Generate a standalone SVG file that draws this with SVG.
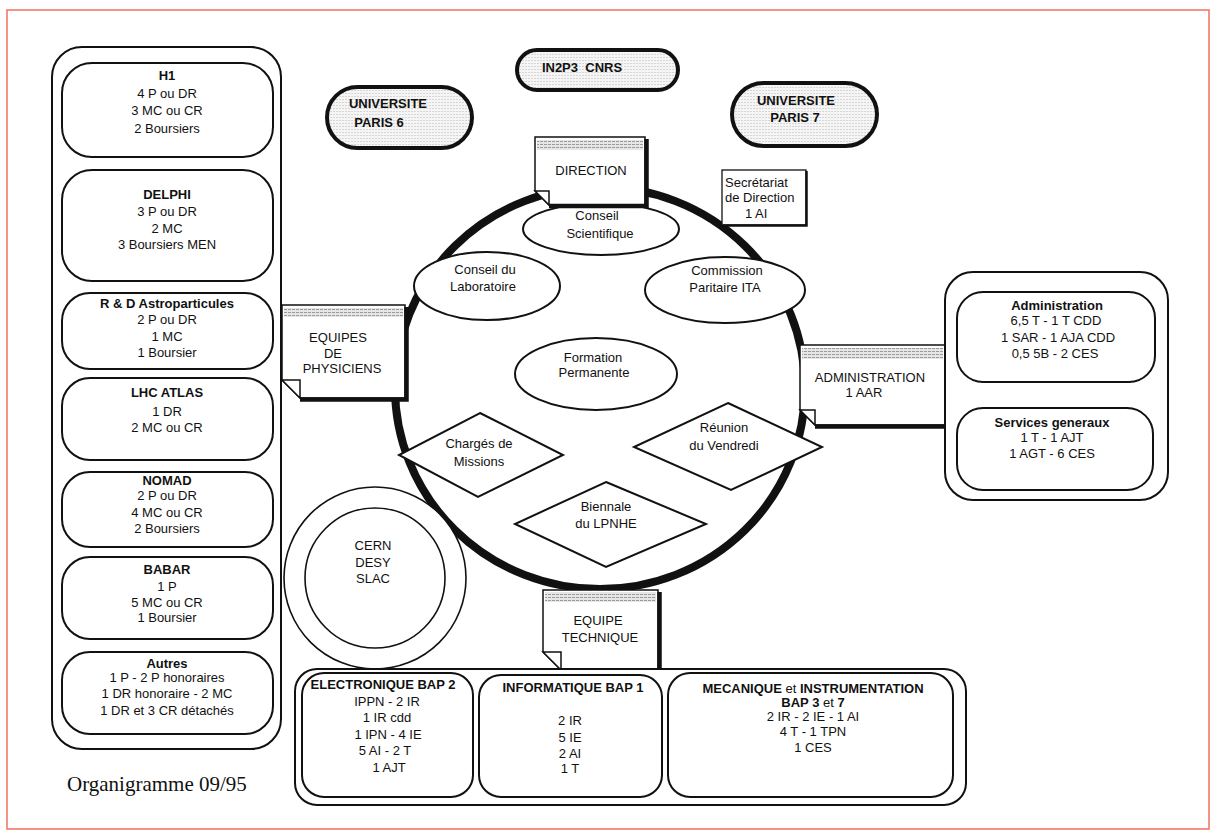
<svg xmlns="http://www.w3.org/2000/svg" width="1217" height="836" viewBox="0 0 1217 836">
<style>
.t{font-family:"Liberation Sans",Arial,sans-serif;font-size:13px;text-anchor:middle;fill:#111}
.b{font-weight:bold}
.s{text-anchor:start}
.box{fill:#fff;stroke:#111;stroke-width:2}
.oval{fill:url(#stip);stroke:#111;stroke-width:4}
.note{fill:#fff;stroke:#111;stroke-width:1.5}
.fold{fill:#fff;stroke:#111;stroke-width:1.5;stroke-linejoin:miter}
.shadow{fill:none;stroke:#111;stroke-width:4.5}
.shape{fill:#fff;stroke:#111;stroke-width:2}
</style>
<defs>
<pattern id="stip" width="3" height="3" patternUnits="userSpaceOnUse"><rect width="3" height="3" fill="#f5f5f5"/><rect width="2" height="1" fill="#d6d6d6"/></pattern>
<pattern id="band" width="4" height="3" patternUnits="userSpaceOnUse"><rect width="4" height="3" fill="#e6e6e6"/><rect width="3" height="1" fill="#9a9a9a"/></pattern>
</defs>
<rect width="1217" height="836" fill="#fff"/>
<rect x="7" y="10" width="1202" height="819" fill="none" stroke="#f07a6a" stroke-width="1.6"/>

<g id="connectors"></g>

<!-- Left container -->
<g id="equipes-list">
<rect class="box" x="52" y="47" width="229" height="702" rx="30"/>
</g>
<g id="h1">
<rect class="box" x="62" y="63" width="211" height="94" rx="30"/>
<text class="t b" x="167" y="80">H1</text>
<text class="t" x="167" y="98">4 P ou DR</text>
<text class="t" x="167" y="115">3 MC ou CR</text>
<text class="t" x="167" y="133">2 Boursiers</text>
</g>
<g id="delphi">
<rect class="box" x="62" y="170" width="211" height="111" rx="30"/>
<text class="t b" x="167" y="199">DELPHI</text>
<text class="t" x="167" y="216">3 P ou DR</text>
<text class="t" x="167" y="233">2 MC</text>
<text class="t" x="167" y="249">3 Boursiers MEN</text>
</g>
<g id="rd">
<rect class="box" x="62" y="293" width="211" height="76" rx="28"/>
<text class="t b" x="167" y="308">R &amp; D Astroparticules</text>
<text class="t" x="167" y="324">2 P ou DR</text>
<text class="t" x="167" y="341">1 MC</text>
<text class="t" x="167" y="357">1 Boursier</text>
</g>
<g id="lhc">
<rect class="box" x="62" y="378" width="211" height="82" rx="28"/>
<text class="t b" x="167" y="397">LHC ATLAS</text>
<text class="t" x="167" y="416">1 DR</text>
<text class="t" x="167" y="432">2 MC ou CR</text>
</g>
<g id="nomad">
<rect class="box" x="62" y="472" width="211" height="75" rx="28"/>
<text class="t b" x="167" y="485">NOMAD</text>
<text class="t" x="167" y="500">2 P ou DR</text>
<text class="t" x="167" y="517">4 MC ou CR</text>
<text class="t" x="167" y="533">2 Boursiers</text>
</g>
<g id="babar">
<rect class="box" x="62" y="557" width="211" height="82" rx="28"/>
<text class="t b" x="167" y="574">BABAR</text>
<text class="t" x="167" y="591">1 P</text>
<text class="t" x="167" y="607">5 MC ou CR</text>
<text class="t" x="167" y="622">1 Boursier</text>
</g>
<g id="autres">
<rect class="box" x="62" y="652" width="211" height="82" rx="28"/>
<text class="t b" x="167" y="668">Autres</text>
<text class="t" x="167" y="682">1 P - 2 P honoraires</text>
<text class="t" x="167" y="698">1 DR honoraire - 2 MC</text>
<text class="t" x="167" y="715">1 DR et 3 CR détachés</text>
</g>
<text x="67" y="791" font-family="Liberation Serif,'Times New Roman',serif" font-size="21" fill="#111">Organigramme 09/95</text>

<!-- Top ovals -->
<g id="paris6">
<rect class="oval" x="327" y="87" width="145" height="61" rx="30.5"/>
<text class="t b" x="388" y="107.5">UNIVERSITE</text>
<text class="t b" x="379" y="126.5">PARIS 6</text>
</g>
<g id="in2p3">
<rect class="oval" x="517" y="50" width="161" height="40" rx="20"/>
<text class="t b" x="582" y="71.5" style="white-space:pre">IN2P3  CNRS</text>
</g>
<g id="paris7">
<rect class="oval" x="732" y="83" width="145" height="63" rx="31.5"/>
<text class="t b" x="796" y="104.5">UNIVERSITE</text>
<text class="t b" x="795" y="121.5">PARIS 7</text>
</g>

<!-- Central circle -->
<g id="laboratoire">
<ellipse cx="600" cy="388" rx="205" ry="201" fill="#fff" stroke="#111" stroke-width="8"/>
</g>
<g id="conseil-scientifique">
<ellipse class="shape" cx="601" cy="229" rx="78" ry="26"/>
<text class="t" x="597" y="219.5">Conseil</text>
<text class="t" x="600" y="237.5">Scientifique</text>
</g>
<g id="conseil-labo">
<ellipse class="shape" cx="487" cy="286" rx="73" ry="34"/>
<text class="t" x="485" y="273.5">Conseil du</text>
<text class="t" x="483" y="290.5">Laboratoire</text>
</g>
<g id="commission">
<ellipse class="shape" cx="725" cy="290" rx="80" ry="33"/>
<text class="t" x="727" y="274.5">Commission</text>
<text class="t" x="725" y="291.5">Paritaire ITA</text>
</g>
<g id="formation">
<ellipse class="shape" cx="596" cy="374" rx="81" ry="36"/>
<text class="t" x="593" y="361.5">Formation</text>
<text class="t" x="594" y="376.5">Permanente</text>
</g>
<g id="charges">
<polygon class="shape" points="480,413 563,455 478,497 399,455"/>
<text class="t" x="479" y="447.5">Chargés de</text>
<text class="t" x="479" y="465.5">Missions</text>
</g>
<g id="reunion">
<polygon class="shape" points="728,403 822,447 731,490 634,447"/>
<text class="t" x="724" y="431.5">Réunion</text>
<text class="t" x="724" y="449.5">du Vendredi</text>
</g>
<g id="biennale">
<polygon class="shape" points="606,482 706,524 606,567 515,524"/>
<text class="t" x="606" y="510.5">Biennale</text>
<text class="t" x="606" y="527.5">du LPNHE</text>
</g>

<!-- CERN -->
<g id="cern">
<circle cx="375" cy="578" r="91" fill="#fff" stroke="#111" stroke-width="1.6"/>
<circle cx="375" cy="578" r="70" fill="#fff" stroke="#111" stroke-width="1.6"/>
<text class="t" x="373" y="549.5">CERN</text>
<text class="t" x="373" y="566.5">DESY</text>
<text class="t" x="373" y="582.5">SLAC</text>
</g>

<!-- Note boxes -->
<g id="direction">
<path class="note" d="M535,137 H645 V205 H549 L535,191 Z"/>
<rect x="537" y="140" width="106" height="10" fill="url(#band)"/>
<path class="fold" d="M535,191 H549 V205 Z"/>
<path class="shadow" d="M549,206 H646.5 V139"/>
<text class="t" x="591" y="174.5">DIRECTION</text>
</g>
<g id="secretariat">
<rect x="722" y="170" width="84" height="55" fill="#fff" stroke="#111" stroke-width="1.3"/>
<path d="M723,225.5 H806.5 V171" fill="none" stroke="#111" stroke-width="2.5"/>
<text class="t s" x="725" y="186.5">Secrétariat</text>
<text class="t s" x="725" y="201.5">de Direction</text>
<text class="t s" x="745" y="217.5">1 AI</text>
</g>
<g id="equipes-physiciens">
<path class="note" d="M282,305 H405 V398 H300 L282,380 Z"/>
<rect x="284" y="308" width="119" height="9" fill="url(#band)"/>
<path class="fold" d="M282,380 H300 V398 Z"/>
<path class="shadow" d="M300,399.5 H406.5 V307"/>
<text class="t" x="338" y="341.5">EQUIPES</text>
<text class="t" x="333" y="357.5">DE</text>
<text class="t" x="342" y="372.5">PHYSICIENS</text>
</g>
<g id="administration">
<path class="note" d="M800,345 H945 V425 H815 L800,410 Z"/>
<rect x="802" y="348" width="141" height="11" fill="url(#band)"/>
<path class="fold" d="M800,410 H815 V425 Z"/>
<path class="shadow" d="M815,426.5 H946"/>
<text class="t" x="870" y="381.5">ADMINISTRATION</text>
<text class="t" x="864" y="396.5">1 AAR</text>
</g>
<g id="equipe-technique">
<path class="note" d="M543,590 H658 V670 H561 L543,652 Z"/>
<rect x="545" y="592" width="111" height="10" fill="url(#band)"/>
<path class="fold" d="M543,652 H561 V670 Z"/>
<path class="shadow" d="M561,671.5 H659.5 V592"/>
<text class="t" x="598" y="624.5">EQUIPE</text>
<text class="t" x="600" y="641.5">TECHNIQUE</text>
</g>

<!-- Right container -->
<g id="admin-list">
<rect class="box" x="945" y="272" width="223" height="228" rx="28"/>
</g>
<g id="admin-box">
<rect class="box" x="957" y="292" width="198" height="90" rx="26"/>
<text class="t b" x="1057" y="309.5">Administration</text>
<text class="t" x="1056" y="324.5">6,5 T - 1 T CDD</text>
<text class="t" x="1058" y="341.5">1 SAR - 1 AJA CDD</text>
<text class="t" x="1055" y="357.5">0,5 5B - 2 CES</text>
</g>
<g id="services">
<rect class="box" x="957" y="408" width="196" height="82" rx="26"/>
<text class="t b" x="1052" y="426.5">Services generaux</text>
<text class="t" x="1052" y="441.5">1 T - 1 AJT</text>
<text class="t" x="1052" y="457.5">1 AGT - 6 CES</text>
</g>

<!-- Bottom container -->
<g id="tech-list">
<rect class="box" x="295" y="669" width="671" height="136" rx="22"/>
</g>
<g id="electronique">
<rect class="box" x="302" y="673" width="171" height="124" rx="22"/>
<text class="t b" x="383" y="688.5">ELECTRONIQUE BAP 2</text>
<text class="t" x="387" y="705.5">IPPN - 2 IR</text>
<text class="t" x="387" y="721.5">1 IR cdd</text>
<text class="t" x="388" y="738.5">1 IPN - 4 IE</text>
<text class="t" x="385" y="754.5">5 AI - 2 T</text>
<text class="t" x="389" y="771.5">1 AJT</text>
</g>
<g id="informatique">
<rect class="box" x="479" y="675" width="183" height="122" rx="22"/>
<text class="t b" x="573" y="691.5">INFORMATIQUE BAP 1</text>
<text class="t" x="570" y="724.5">2 IR</text>
<text class="t" x="570" y="741.5">5 IE</text>
<text class="t" x="570" y="757.5">2 AI</text>
<text class="t" x="570" y="772.5">1 T</text>
</g>
<g id="mecanique">
<rect class="box" x="668" y="673" width="285" height="124" rx="22"/>
<text class="t b" x="813" y="692.5">MECANIQUE <tspan font-weight="normal">et</tspan> INSTRUMENTATION</text>
<text class="t b" x="813" y="706.5">BAP 3 <tspan font-weight="normal">et</tspan> 7</text>
<text class="t" x="813" y="720.5">2 IR - 2 IE - 1 AI</text>
<text class="t" x="813" y="735.5">4 T - 1 TPN</text>
<text class="t" x="813" y="751.5">1 CES</text>
</g>
</svg>
